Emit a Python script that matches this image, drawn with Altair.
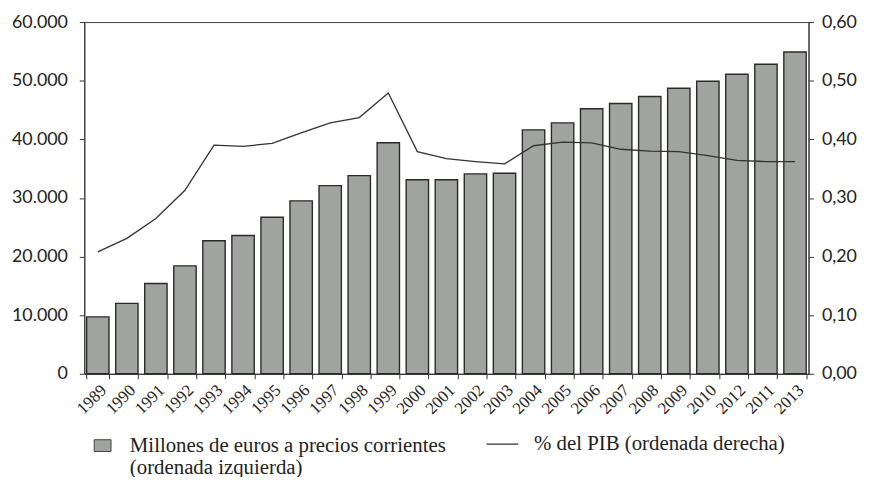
import altair as alt
import pandas as pd

years = ["1989", "1990", "1991", "1992", "1993", "1994", "1995", "1996", "1997",
         "1998", "1999", "2000", "2001", "2002", "2003", "2004", "2005", "2006",
         "2007", "2008", "2009", "2010", "2012", "2011", "2013"]
millones = [9700, 12000, 15400, 18400, 22700, 23600, 26700, 29500, 32100,
            33800, 39400, 33100, 33100, 34100, 34200, 41600, 42800, 45200,
            46100, 47300, 48700, 49900, 51100, 52800, 54900]
pib = [0.208, 0.231, 0.265, 0.313, 0.390, 0.388, 0.393, 0.411, 0.428,
       0.437, 0.479, 0.379, 0.367, 0.362, 0.358, 0.389, 0.395, 0.394,
       0.383, 0.380, 0.379, 0.372, 0.364, 0.362, 0.362]

bar_label = "Millones de euros a precios corrientes|(ordenada izquierda)"
line_label = "% del PIB (ordenada derecha)"

df = pd.DataFrame({"year": years, "millones": millones, "pib": pib})
df["serie_bar"] = bar_label
df["serie_line"] = line_label

SANS = "Lato"
SERIF = "Liberation Serif"

x_enc = alt.X(
    "year:N", sort=years, title=None,
    scale=alt.Scale(paddingInner=0.23, paddingOuter=0.08),
    axis=alt.Axis(labelAngle=-45, labelFont=SERIF, labelFontSize=17,
                  labelColor="#222", tickBand="extent", tickSize=5,
                  tickColor="#333", domainColor="#333", labelPadding=3),
)

base = alt.Chart(df)

bars = base.mark_bar(stroke="#2a2a2a", strokeWidth=1.4).encode(
    x=x_enc,
    y=alt.Y("millones:Q", title=None,
            scale=alt.Scale(domain=[0, 60000], nice=False),
            axis=alt.Axis(orient="left", values=[0, 10000, 20000, 30000, 40000, 50000, 60000],
                          labelExpr="replace(format(datum.value, ','), ',', '.')",
                          labelFont=SANS, labelFontSize=18, labelColor="#222",
                          tickSize=5, tickColor="#333", domainColor="#333",
                          labelPadding=12, grid=False)),
    fill=alt.Fill("serie_bar:N", title=None,
                  scale=alt.Scale(domain=[bar_label], range=["#a0a3a0"]),
                  legend=alt.Legend(orient="none", legendX=8, legendY=417,
                                    symbolType="M-1,-0.7H1V0.7H-1Z", symbolSize=289,
                                    symbolStrokeColor="#444", symbolStrokeWidth=1,
                                    labelExpr="split(datum.label, '|')",
                                    labelFont=SERIF, labelFontSize=21, labelColor="#222",
                                    labelBaseline="middle", labelLimit=600, labelOffset=17)),
)

line = base.mark_line(strokeWidth=1.3).encode(
    x=alt.X("year:N", sort=years),
    y=alt.Y("pib:Q", title=None,
            scale=alt.Scale(domain=[0, 0.6], nice=False),
            axis=alt.Axis(orient="right", values=[0, 0.1, 0.2, 0.3, 0.4, 0.5, 0.6],
                          labelExpr="replace(format(datum.value, '.2f'), '.', ',')",
                          labelFont=SANS, labelFontSize=18, labelColor="#222",
                          tickSize=5, tickColor="#333", domainColor="#333",
                          labelPadding=8, grid=False)),
    stroke=alt.Stroke("serie_line:N", title=None,
                      scale=alt.Scale(domain=[line_label], range=["#333333"]),
                      legend=alt.Legend(orient="none", legendX=405, legendY=409,
                                        symbolType="stroke", symbolSize=1024,
                                        symbolStrokeWidth=1.3,
                                        labelFont=SERIF, labelFontSize=21, labelColor="#222",
                                        labelBaseline="middle", labelLimit=600, labelOffset=15)),
)

chart = alt.layer(bars, line).resolve_scale(
    y="independent", fill="independent", stroke="independent"
).properties(
    width=731, height=355,
    padding={"left": 77, "top": 12, "right": 56, "bottom": 102},
    autosize=alt.AutoSizeParams(type="none"),
    background="white",
).configure_view(stroke="#444", strokeWidth=1)

chart.save("out.html", embed_options={"renderer": "svg", "actions": False})
